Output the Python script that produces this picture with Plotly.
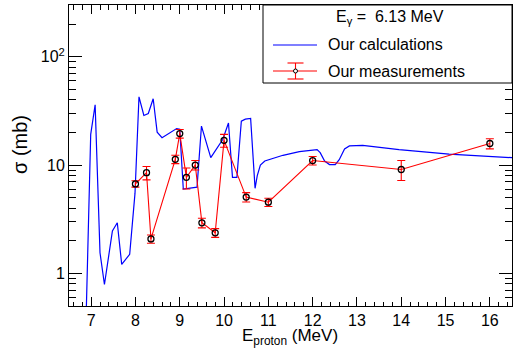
import plotly.graph_objects as go

# ---- data ----
calc_E = [6.89, 6.99, 7.09, 7.20, 7.30, 7.48, 7.59, 7.69, 7.87, 7.99, 8.08, 8.19, 8.29,
          8.40, 8.49, 8.60, 8.93, 9.00, 9.08, 9.39, 9.49, 9.70, 9.97, 10.10, 10.19, 10.29,
          10.39, 10.48, 10.60, 10.70, 10.75, 10.82, 10.92, 11.10, 11.33, 11.70, 12.00,
          12.10, 12.17, 12.27, 12.38, 12.51, 12.60, 12.72, 12.83, 13.13, 13.95, 15.08, 16.5]
calc_sigma = [0.45, 19.2, 36.0, 1.55, 0.79, 2.46, 2.93, 1.21, 1.5, 5.5, 42.6, 28.7, 29.9,
              40.9, 20.1, 17.9, 21.7, 21.4, 6.0, 6.25, 22.9, 11.7, 17.2, 24.4, 7.7, 7.7,
              25.4, 26.5, 26.9, 6.1, 8.0, 10.0, 10.9, 11.5, 12.3, 13.3, 13.9,
              13.9, 13.0, 10.9, 10.1, 10.1, 11.2, 14.1, 15.0, 15.2, 13.9, 12.6, 11.7]

meas_E = [8.0, 8.25, 8.35, 8.9, 9.0, 9.15, 9.35, 9.5, 9.8, 10.0, 10.5, 11.0, 12.0, 14.0, 16.0]
meas_sigma = [6.7, 8.5, 2.08, 11.3, 19.5, 7.7, 10.0, 2.93, 2.37, 16.9, 5.06, 4.54, 11.0, 9.1, 15.8]
meas_err = [0.45, 1.2, 0.18, 1.0, 1.8, 1.7, 1.0, 0.3, 0.22, 2.3, 0.5, 0.4, 1.0, 1.9, 1.7]

x_ticks = [7, 8, 9, 10, 11, 12, 13, 14, 15, 16]
y_tickvals = [1, 10, 100]
y_ticktext = ["1", "10", "10<sup>2</sup>"]

legend_title = "E<sub>γ</sub> =  6.13 MeV"
name_calc = "Our calculations"
name_meas = "Our measurements"

# ---- layout geometry (pixels) ----
W, H = 513, 350
ML, MR, MT, MB = 69, 1, 5, 44
PW, PH = W - ML - MR, H - MT - MB


def px(x):
    return (x - ML) / PW


def py(y):
    return (H - MB - y) / PH


FONT = "Liberation Sans, Arial, sans-serif"

fig = go.Figure()
fig.add_trace(go.Scatter(x=calc_E, y=calc_sigma, mode="lines", name=name_calc,
                         line=dict(color="#0000ff", width=1.2), showlegend=False))
fig.add_trace(go.Scatter(x=meas_E, y=meas_sigma, mode="lines+markers", name=name_meas,
                         line=dict(color="#ff0000", width=1.1),
                         marker=dict(symbol="circle-open", size=6, color="black",
                                     line=dict(width=1.3, color="black")),
                         error_y=dict(type="data", array=meas_err, visible=True,
                                      color="#ff0000", thickness=1.1, width=4),
                         showlegend=False))

shapes = []
# legend box
shapes.append(dict(type="rect", xref="paper", yref="paper", x0=px(263), x1=px(512),
                   y0=py(83), y1=py(5), line=dict(color="black", width=1),
                   fillcolor="white", layer="above"))
# legend glyphs
shapes.append(dict(type="line", xref="paper", yref="paper", x0=px(273), x1=px(317),
                   y0=py(45), y1=py(45), line=dict(color="#0000ff", width=1.2)))
shapes.append(dict(type="line", xref="paper", yref="paper", x0=px(273), x1=px(317),
                   y0=py(71), y1=py(71), line=dict(color="#ff0000", width=1.1)))
shapes.append(dict(type="line", xref="paper", yref="paper", x0=px(295.5), x1=px(295.5),
                   y0=py(79), y1=py(63), line=dict(color="#ff0000", width=1.1)))
for yy in (63, 79):
    shapes.append(dict(type="line", xref="paper", yref="paper", x0=px(287.5), x1=px(303.5),
                       y0=py(yy), y1=py(yy), line=dict(color="#ff0000", width=1.1)))
shapes.append(dict(type="circle", xref="paper", yref="paper", x0=px(293.5), x1=px(297.5),
                   y0=py(73), y1=py(69), line=dict(color="black", width=1),
                   fillcolor="white"))

annotations = [
    dict(text=legend_title, xref="paper", yref="paper", x=px(390), y=py(18),
         xanchor="center", yanchor="middle", showarrow=False,
         font=dict(family=FONT, size=16, color="black")),
    dict(text=name_calc, xref="paper", yref="paper", x=px(326), y=py(45),
         xanchor="left", yanchor="middle", showarrow=False,
         font=dict(family=FONT, size=16, color="black")),
    dict(text=name_meas, xref="paper", yref="paper", x=px(326), y=py(71),
         xanchor="left", yanchor="middle", showarrow=False,
         font=dict(family=FONT, size=16, color="black")),
    dict(text="E<sub>proton</sub> (MeV)", xref="paper", yref="paper", x=px(290), y=py(337),
         xanchor="center", yanchor="middle", showarrow=False,
         font=dict(family=FONT, size=17, color="black")),
    dict(text="σ (mb)", xref="paper", yref="paper", x=px(20), y=py(145),
         xanchor="center", yanchor="middle", showarrow=False, textangle=-90,
         font=dict(family=FONT, size=20, color="black")),
]

fig.update_layout(
    template="none",
    width=W, height=H, margin=dict(l=ML, r=MR, t=MT, b=MB, autoexpand=False),
    paper_bgcolor="white", plot_bgcolor="white",
    font=dict(family=FONT, size=16, color="black"),
    shapes=shapes, annotations=annotations, showlegend=False,
)
fig.update_xaxes(range=[6.5, 16.5], tickvals=x_ticks, ticks="inside", ticklen=9,
                 tickcolor="black", tickwidth=1, showline=True, linecolor="black",
                 linewidth=1, mirror="ticks", showgrid=False, zeroline=False,
                 automargin=False, tickfont=dict(family=FONT, size=16),
                 minor=dict(dtick=0.2, tick0=0, ticks="inside", ticklen=4.5,
                            tickcolor="black", showgrid=False))
fig.update_yaxes(type="log", range=[-0.30103, 2.4771], tickvals=y_tickvals,
                 ticktext=y_ticktext, ticks="inside", ticklen=13, tickcolor="black",
                 tickwidth=1, showline=True, linecolor="black", linewidth=1,
                 mirror="ticks", showgrid=False, zeroline=False,
                 automargin=False, tickfont=dict(family=FONT, size=16),
                 minor=dict(dtick="D1", ticks="inside", ticklen=7, tickcolor="black",
                            showgrid=False))

fig.write_html("out.html", config={"displayModeBar": False},
               post_script="document.body.style.margin='0';document.body.style.overflow='hidden';")
